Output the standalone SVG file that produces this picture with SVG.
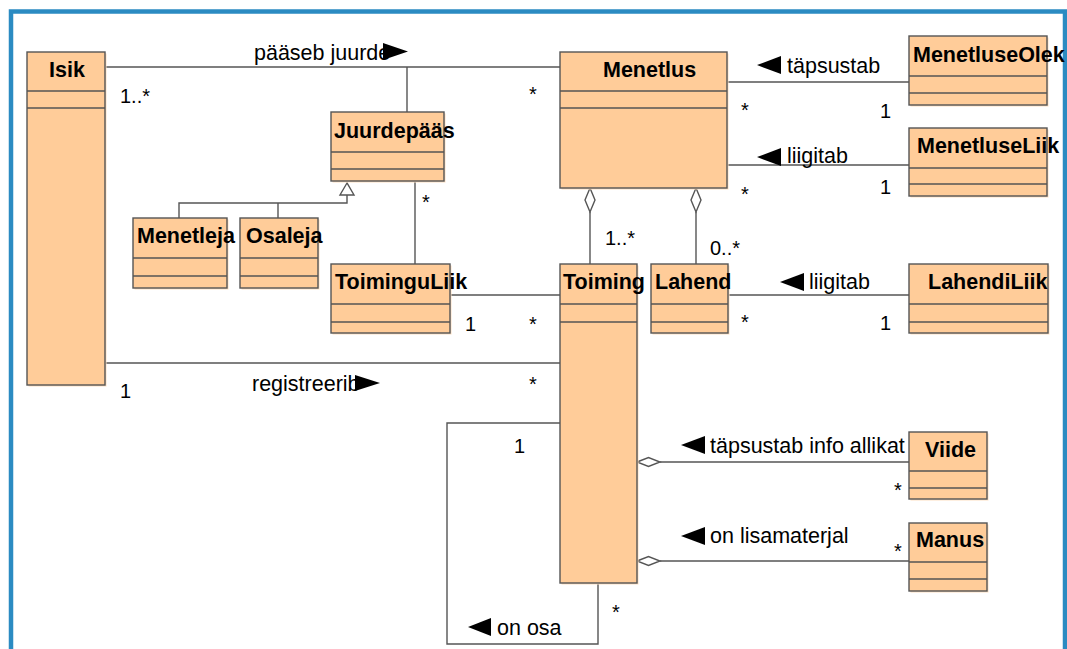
<svg xmlns="http://www.w3.org/2000/svg" width="1067" height="649" viewBox="0 0 1067 649">
  <style>
    .box{fill:#ffcc99;stroke:#555;stroke-width:1.4}
    .sh{fill:#fde0c2}
    .div{stroke:#555;stroke-width:1.4}
    .name{font-family:"Liberation Sans",Arial,sans-serif;font-weight:bold;font-size:21.5px;fill:#000}
    .lbl{font-family:"Liberation Sans",Arial,sans-serif;font-size:21.5px;fill:#000}
    .mul{font-family:"Liberation Sans",Arial,sans-serif;font-size:20px;fill:#000}
    .ln{fill:none;stroke:#555;stroke-width:1.4}
    .dia{fill:#fff;stroke:#555;stroke-width:1.4}
    .dir{fill:#000}
  </style>

  <!-- frame -->
  <rect x="11" y="11.5" width="1054" height="700" fill="#fff" stroke="#2b8bc2" stroke-width="4.5"/>

  <!-- connectors -->
  <g id="connectors">
    <line class="ln" x1="105" y1="67" x2="560" y2="67"/>
    <line class="ln" x1="407" y1="67" x2="407" y2="112"/>
    <polyline class="ln" points="179,218 179,203 347,203 347,195"/>
    <line class="ln" x1="278" y1="203" x2="278" y2="218"/>
    <polygon class="dia" points="347,183 340,195 354,195"/>
    <line class="ln" x1="415" y1="181" x2="415" y2="264"/>
    <line class="ln" x1="450" y1="295" x2="560" y2="295"/>
    <line class="ln" x1="105" y1="363" x2="560" y2="363"/>
    <line class="ln" x1="727" y1="82" x2="909" y2="82"/>
    <line class="ln" x1="727" y1="165" x2="909" y2="165"/>
    <line class="ln" x1="590" y1="212" x2="590" y2="264"/>
    <polygon class="dia" points="590,188 595,200 590,212 585,200"/>
    <line class="ln" x1="696" y1="212" x2="696" y2="264"/>
    <polygon class="dia" points="696,188 701,200 696,212 691,200"/>
    <line class="ln" x1="728" y1="295" x2="909" y2="295"/>
    <line class="ln" x1="660" y1="462" x2="909" y2="462"/>
    <polygon class="dia" points="637,462 648.5,457.5 660,462 648.5,466.5"/>
    <line class="ln" x1="660" y1="561" x2="909" y2="561"/>
    <polygon class="dia" points="637,561 648.5,556.5 660,561 648.5,565.5"/>
    <polyline class="ln" points="560,423 447,423 447,644 598,644 598,583"/>

    <!-- association names with reading direction -->
    <text class="lbl" x="254" y="60">pääseb juurde</text>
    <polygon class="dir" points="383,43 408,51.5 383,60"/>
    <polygon class="dir" points="781,56 757,65 781,74"/>
    <text class="lbl" x="787" y="73">täpsustab</text>
    <polygon class="dir" points="781,148 757,157 781,166"/>
    <text class="lbl" x="787" y="163">liigitab</text>
    <polygon class="dir" points="804,273 780,282 804,291"/>
    <text class="lbl" x="809" y="289">liigitab</text>
    <text class="lbl" x="252" y="391">registreerib</text>
    <polygon class="dir" points="355,375 380,383 355,391"/>
    <polygon class="dir" points="705,436 681,445 705,454"/>
    <text class="lbl" x="710" y="453">täpsustab info allikat</text>
    <polygon class="dir" points="705,527 681,536 705,545"/>
    <text class="lbl" x="710" y="543">on lisamaterjal</text>
    <polygon class="dir" points="491,618 468,627 491,636"/>
    <text class="lbl" x="497" y="635">on osa</text>

    <!-- multiplicities -->
    <text class="mul" x="120" y="103">1..*</text>
    <text class="mul" x="529" y="101">*</text>
    <text class="mul" x="741" y="117">*</text>
    <text class="mul" x="880" y="118">1</text>
    <text class="mul" x="741" y="201">*</text>
    <text class="mul" x="880" y="194">1</text>
    <text class="mul" x="422" y="209">*</text>
    <text class="mul" x="605" y="245">1..*</text>
    <text class="mul" x="710" y="255">0..*</text>
    <text class="mul" x="465" y="331">1</text>
    <text class="mul" x="529" y="331">*</text>
    <text class="mul" x="741" y="329">*</text>
    <text class="mul" x="880" y="330">1</text>
    <text class="mul" x="120" y="398">1</text>
    <text class="mul" x="529" y="391">*</text>
    <text class="mul" x="894" y="497">*</text>
    <text class="mul" x="894" y="558">*</text>
    <text class="mul" x="514" y="453">1</text>
    <text class="mul" x="612" y="619">*</text>
  </g>

  <!-- classes -->
  <g id="Isik">
    <rect class="sh" x="28.5" y="53.5" width="78" height="333"/>
    <rect class="box" x="27" y="52" width="78" height="333"/>
    <line class="div" x1="27" y1="91" x2="105" y2="91"/>
    <line class="div" x1="27" y1="108" x2="105" y2="108"/>
    <text class="name" x="49" y="77">Isik</text>
  </g>
  <g id="Menetlus">
    <rect class="sh" x="561.5" y="53.5" width="167" height="136"/>
    <rect class="box" x="560" y="52" width="167" height="136"/>
    <line class="div" x1="560" y1="91" x2="727" y2="91"/>
    <line class="div" x1="560" y1="108" x2="727" y2="108"/>
    <text class="name" x="603" y="77">Menetlus</text>
  </g>
  <g id="MenetluseOlek">
    <rect class="sh" x="910.5" y="37.5" width="138" height="69"/>
    <rect class="box" x="909" y="36" width="138" height="69"/>
    <line class="div" x1="909" y1="76" x2="1047" y2="76"/>
    <line class="div" x1="909" y1="93" x2="1047" y2="93"/>
    <text class="name" x="913" y="62">MenetluseOlek</text>
  </g>
  <g id="MenetluseLiik">
    <rect class="sh" x="910.5" y="129.5" width="138" height="68"/>
    <rect class="box" x="909" y="128" width="138" height="68"/>
    <line class="div" x1="909" y1="168" x2="1047" y2="168"/>
    <line class="div" x1="909" y1="184" x2="1047" y2="184"/>
    <text class="name" x="917" y="153">MenetluseLiik</text>
  </g>
  <g id="Juurdepaas">
    <rect class="sh" x="332.5" y="113.5" width="113" height="69"/>
    <rect class="box" x="331" y="112" width="113" height="69"/>
    <line class="div" x1="331" y1="152" x2="444" y2="152"/>
    <line class="div" x1="331" y1="169" x2="444" y2="169"/>
    <text class="name" x="334" y="138">Juurdepääs</text>
  </g>
  <g id="Menetleja">
    <rect class="sh" x="134.5" y="219.5" width="94" height="70"/>
    <rect class="box" x="133" y="218" width="94" height="70"/>
    <line class="div" x1="133" y1="258" x2="227" y2="258"/>
    <line class="div" x1="133" y1="276" x2="227" y2="276"/>
    <text class="name" x="137" y="243">Menetleja</text>
  </g>
  <g id="Osaleja">
    <rect class="sh" x="241.5" y="219.5" width="78" height="70"/>
    <rect class="box" x="240" y="218" width="78" height="70"/>
    <line class="div" x1="240" y1="258" x2="318" y2="258"/>
    <line class="div" x1="240" y1="276" x2="318" y2="276"/>
    <text class="name" x="246" y="243">Osaleja</text>
  </g>
  <g id="ToiminguLiik">
    <rect class="sh" x="332.5" y="265.5" width="119" height="69"/>
    <rect class="box" x="331" y="264" width="119" height="69"/>
    <line class="div" x1="331" y1="304" x2="450" y2="304"/>
    <line class="div" x1="331" y1="322" x2="450" y2="322"/>
    <text class="name" x="335" y="289">ToiminguLiik</text>
  </g>
  <g id="Toiming">
    <rect class="sh" x="561.5" y="265.5" width="77" height="319"/>
    <rect class="box" x="560" y="264" width="77" height="319"/>
    <line class="div" x1="560" y1="304" x2="637" y2="304"/>
    <line class="div" x1="560" y1="322" x2="637" y2="322"/>
    <text class="name" x="563" y="289">Toiming</text>
  </g>
  <g id="Lahend">
    <rect class="sh" x="652.5" y="265.5" width="77" height="69"/>
    <rect class="box" x="651" y="264" width="77" height="69"/>
    <line class="div" x1="651" y1="304" x2="728" y2="304"/>
    <line class="div" x1="651" y1="322" x2="728" y2="322"/>
    <text class="name" x="655" y="289">Lahend</text>
  </g>
  <g id="LahendiLiik">
    <rect class="sh" x="910.5" y="265.5" width="139" height="69"/>
    <rect class="box" x="909" y="264" width="139" height="69"/>
    <line class="div" x1="909" y1="304" x2="1048" y2="304"/>
    <line class="div" x1="909" y1="322" x2="1048" y2="322"/>
    <text class="name" x="928" y="289">LahendiLiik</text>
  </g>
  <g id="Viide">
    <rect class="sh" x="910.5" y="433.5" width="78" height="67"/>
    <rect class="box" x="909" y="432" width="78" height="67"/>
    <line class="div" x1="909" y1="471" x2="987" y2="471"/>
    <line class="div" x1="909" y1="488" x2="987" y2="488"/>
    <text class="name" x="925" y="457">Viide</text>
  </g>
  <g id="Manus">
    <rect class="sh" x="910.5" y="524.5" width="78" height="68"/>
    <rect class="box" x="909" y="523" width="78" height="68"/>
    <line class="div" x1="909" y1="562" x2="987" y2="562"/>
    <line class="div" x1="909" y1="579" x2="987" y2="579"/>
    <text class="name" x="916" y="547">Manus</text>
  </g>
</svg>
